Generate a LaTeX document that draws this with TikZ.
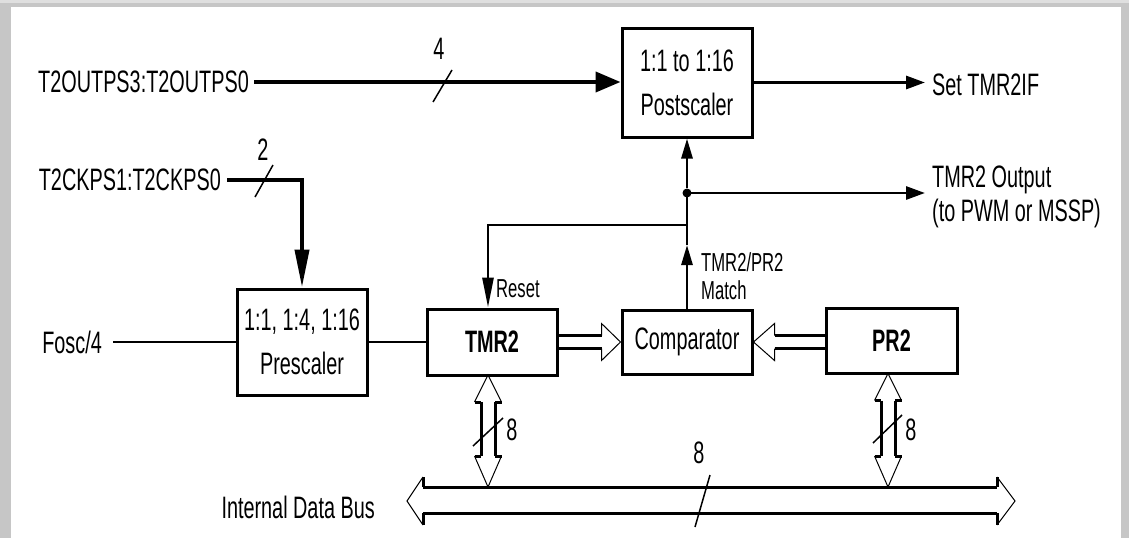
\documentclass[tikz,border=0pt]{standalone}
\usepackage{fontspec}
\setmainfont{Liberation Sans}[FakeStretch=0.64]
\usetikzlibrary{arrows.meta,calc}
\newcommand\vbusarrow[3]{% x, top tip y, bottom tip y
  \draw[busline] (#1-7,#2+27) -- (#1-7,#3-31);
  \draw[busline] (#1+7,#2+27) -- (#1+7,#3-31);
  \draw[busline] (#1-7,#2+27) -- (#1-13.5,#2+27) (#1+7,#2+27) -- (#1+13.5,#2+27);
  \draw[busline] (#1-7,#3-31) -- (#1-13.5,#3-31) (#1+7,#3-31) -- (#1+13.5,#3-31);
  \draw[headline] (#1-13.5,#2+27) -- (#1,#2) -- (#1+13.5,#2+27);
  \draw[headline] (#1-13.5,#3-31) -- (#1,#3) -- (#1+13.5,#3-31);
}
\begin{document}
\begin{tikzpicture}[x=1pt,y=-1pt,
  txt/.style={inner sep=0pt, font=\fontsize{31}{34}\selectfont},
  small/.style={inner sep=0pt, font=\fontsize{26}{28}\selectfont, align=left},
  blk/.style={draw, line width=3pt, minimum width=130pt, inner sep=0pt, align=center, font=\fontsize{31}{44}\selectfont},
  wire/.style={line width=2.8pt},
  heavy/.style={line width=4pt},
  arrbig/.style={-{Triangle[length=25pt,width=20pt]}},
  arrdown/.style={-{Triangle[length=38pt,width=14pt]}},
  arrsmall/.style={-{Triangle[length=19pt,width=13pt]}},
  arrvert/.style={-{Triangle[length=20pt,width=11pt]}},
  arrreset/.style={-{Triangle[length=30pt,width=11pt]}},
  busline/.style={line width=3pt},
  headline/.style={line width=1pt, line join=miter},
  slash/.style={line width=1.5pt},
]
\useasboundingbox (0,0) rectangle (1129,538);
\fill[gray!45] (0,0) rectangle (1129,538);
\fill[gray!25] (0,0) rectangle (1129,3);
\fill[white] (11,7) rectangle (1121,538);

% blocks
\node[blk, minimum height=109pt] (post) at (687,82.5) {1:1 to 1:16\\Postscaler};
\node[blk, minimum height=106pt] (pre) at (302,342) {1:1, 1:4, 1:16\\Prescaler};
\node[blk, minimum height=66pt, font=\fontsize{31}{34}\selectfont\bfseries] (tmr) at (492,342) {TMR2};
\node[blk, minimum height=64pt] (comp) at (687,342) {Comparator};
\node[blk, minimum height=65pt, minimum width=131pt, font=\fontsize{31}{34}\selectfont\bfseries] (pr) at (891.5,341) {PR2};

% texts
\node[txt, anchor=east] (outps) at (249,82) {T2OUTPS3:T2OUTPS0};
\node[txt, anchor=east] (ckps) at (221,180) {T2CKPS1:T2CKPS0};
\node[txt, anchor=east] (fosc) at (102,342) {Fosc/4};
\node[txt, anchor=west] (set) at (932,85) {Set TMR2IF};
\node[txt, anchor=west, align=left] (out) at (932,197) {TMR2 Output\\(to PWM or MSSP)};
\node[txt, anchor=east] (bus) at (375,507) {Internal Data Bus};
\node[small, anchor=west] (reset) at (496,289) {Reset};
\node[small, anchor=west] (match) at (701,276) {TMR2/PR2\\Match};
\node[txt] (n4) at (439,49) {4};
\node[txt] (n2) at (263,150) {2};
\node[txt] (n8a) at (512,430) {8};
\node[txt] (n8b) at (911,430) {8};
\node[txt] (n8c) at (699,453) {8};

% connectors
\draw[heavy, arrbig, shorten <=5pt] (outps.east) -- (outps.east -| post.west);
\draw[heavy, arrdown, shorten <=6pt] (ckps.east) -| (pre.north);
\draw[wire, shorten <=11pt] (fosc.east) -- (pre.west);
\draw[wire] (pre.east) -- (tmr.west);
\draw[line width=3pt, arrsmall, shorten >=7pt] (post.east) -- (post.east -| set.west);

\node[circle, fill, inner sep=0pt, minimum size=9pt] (dot) at (687,193) {};
\coordinate (jn) at (687,225);
\coordinate (mt) at (687,245);
\draw[wire, arrvert] (dot.north) -- (post.south);
\draw[wire, arrsmall, shorten >=7pt] (dot.center) -- (dot -| out.west);
\draw[wire] (dot.center) -- (jn) -- (mt);
\draw[wire, arrvert] (comp.north) -- (mt);
\draw[wire, arrreset] (jn) -| ([xshift=-4pt]tmr.north);

% hollow arrows into comparator
\draw[busline] ($(tmr.east)+(0,-6.5)$) -- ($(comp.west)+(-19,-6.5)$);
\draw[busline] ($(tmr.east)+(0,6.5)$) -- ($(comp.west)+(-19,6.5)$);
\draw[headline] ($(comp.west)+(-19,-6.5)$) -- ($(comp.west)+(-19,-18.5)$) -- (comp.west) -- ($(comp.west)+(-19,18.5)$) -- ($(comp.west)+(-19,6.5)$);
\draw[busline] ($(comp.east)+(21,-6.5)$) -- ($(comp.east -| pr.west)+(0,-6.5)$);
\draw[busline] ($(comp.east)+(21,6.5)$) -- ($(comp.east -| pr.west)+(0,6.5)$);
\draw[headline] ($(comp.east)+(21,-6.5)$) -- ($(comp.east)+(21,-18.5)$) -- (comp.east) -- ($(comp.east)+(21,18.5)$) -- ($(comp.east)+(21,6.5)$);

% internal data bus
\draw[busline] (423,487) -- (997,487);
\draw[busline] (423,513) -- (997,513);
\draw[busline] (423,487) -- (423,477) (423,513) -- (423,525);
\draw[busline] (997,487) -- (997,477) (997,513) -- (997,525);
\draw[headline] (423,477) -- (407,501) -- (423,525);
\draw[headline] (997,477) -- (1015,501) -- (997,525);

\vbusarrow{488}{375}{487}
\vbusarrow{888}{373.5}{487}

% bus width slashes
\draw[slash] (433,102) -- (452,70);
\draw[slash] (255,197) -- (273,165);
\draw[slash] (473,446) -- (503,418);
\draw[slash] (873,443) -- (902,415);
\draw[slash] (695,527) -- (710,475);
\end{tikzpicture}
\end{document}
